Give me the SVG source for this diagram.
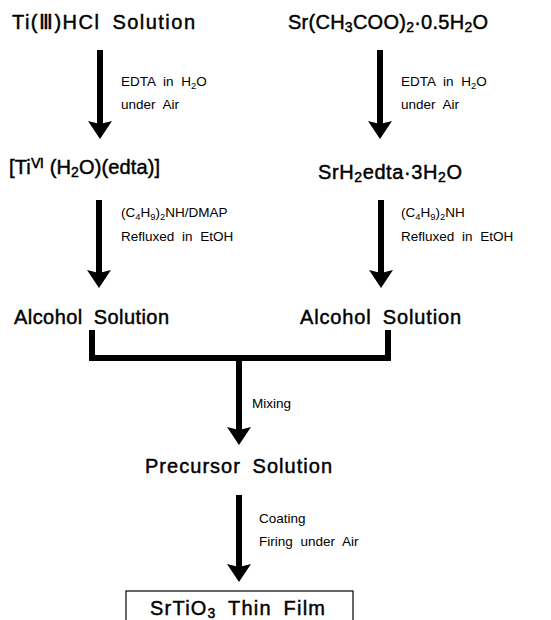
<svg xmlns="http://www.w3.org/2000/svg" width="551" height="620" viewBox="0 0 551 620">
<style>
.n{font-family:"Liberation Sans",Arial,sans-serif;font-size:20px;fill:#000;stroke:#000;stroke-width:0.45px;word-spacing:5px}
.l{font-family:"Liberation Sans",Arial,sans-serif;font-size:13.5px;fill:#000;word-spacing:4px}
.s{font-size:70%}
.c{fill:none;stroke:#000;stroke-width:6}
</style>
<defs>
<marker id="ah" markerUnits="userSpaceOnUse" markerWidth="20" markerHeight="26" viewBox="0 0 20 26" refX="6" refY="13" orient="auto">
<path d="M0,1 L18,13 L0,25 L3,13 Z" fill="#000"/>
</marker>
</defs>
<rect width="551" height="620" fill="#fff"/>
<g id="connectors">
<line class="c" x1="100" y1="50" x2="100" y2="127" marker-end="url(#ah)"/>
<line class="c" x1="380" y1="50" x2="380" y2="127" marker-end="url(#ah)"/>
<line class="c" x1="99" y1="200" x2="99" y2="276" marker-end="url(#ah)"/>
<line class="c" x1="381" y1="200" x2="381" y2="276" marker-end="url(#ah)"/>
<path class="c" d="M92,330 V358 H388 V330" stroke-width="7"/>
<line class="c" x1="239" y1="358" x2="239" y2="433" marker-end="url(#ah)"/>
<line class="c" x1="239" y1="495" x2="239" y2="570" marker-end="url(#ah)"/>
<text class="l" x="121" y="86">EDTA in H<tspan class="s" baseline-shift="-3">2</tspan>O</text>
<text class="l" x="121" y="109">under Air</text>
<text class="l" x="401" y="86">EDTA in H<tspan class="s" baseline-shift="-3">2</tspan>O</text>
<text class="l" x="401" y="109">under Air</text>
<text class="l" x="121" y="217">(C<tspan class="s" baseline-shift="-3">4</tspan>H<tspan class="s" baseline-shift="-3">9</tspan>)<tspan class="s" baseline-shift="-3">2</tspan>NH/DMAP</text>
<text class="l" x="121" y="241">Refluxed in EtOH</text>
<text class="l" x="401" y="217">(C<tspan class="s" baseline-shift="-3">4</tspan>H<tspan class="s" baseline-shift="-3">9</tspan>)<tspan class="s" baseline-shift="-3">2</tspan>NH</text>
<text class="l" x="401" y="241">Refluxed in EtOH</text>
<text class="l" x="252" y="408">Mixing</text>
<text class="l" x="259" y="523">Coating</text>
<text class="l" x="259" y="546">Firing under Air</text>
</g>
<g id="ti-hcl"><text class="n" x="12" y="29" textLength="183">Ti(Ⅲ)HCl Solution</text></g>
<g id="sr-acetate"><text class="n" x="288" y="29" textLength="200" style="word-spacing:0">Sr(CH<tspan class="s" baseline-shift="-3">3</tspan>COO)<tspan class="s" baseline-shift="-3">2</tspan>·0.5H<tspan class="s" baseline-shift="-3">2</tspan>O</text></g>
<g id="ti-edta"><text class="n" x="9" y="174" textLength="151" style="word-spacing:0">[Ti<tspan class="s" baseline-shift="6">Ⅵ</tspan> (H<tspan class="s" baseline-shift="-3">2</tspan>O)(edta)]</text></g>
<g id="sr-edta"><text class="n" x="318" y="179" textLength="144" style="word-spacing:0">SrH<tspan class="s" baseline-shift="-3">2</tspan>edta·3H<tspan class="s" baseline-shift="-3">2</tspan>O</text></g>
<g id="alcohol-ti"><text class="n" x="14" y="324" textLength="155">Alcohol Solution</text></g>
<g id="alcohol-sr"><text class="n" x="300" y="324" textLength="161">Alcohol Solution</text></g>
<g id="precursor"><text class="n" x="145" y="473" textLength="187">Precursor Solution</text></g>
<g id="film">
<rect x="126" y="591" width="227" height="40" fill="none" stroke="#000" stroke-width="1.2"/>
<text class="n" x="150" y="615" textLength="175">SrTiO<tspan class="s" baseline-shift="-3">3</tspan> Thin Film</text>
</g>
</svg>
